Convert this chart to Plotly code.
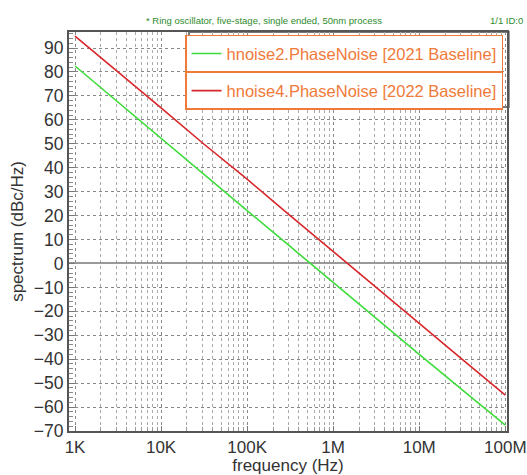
import plotly.graph_objects as go

freq = [1e3, 3.162e3, 1e4, 3.162e4, 1e5, 3.162e5, 1e6, 3.162e6, 1e7, 3.162e7, 1e8]
pn_2021 = [82.5, 67.3, 52.2, 37.0, 22.1, 7.1, -8.0, -22.9, -38.0, -52.8, -67.5]
pn_2022 = [95.0, 80.2, 65.0, 49.8, 35.2, 20.0, 5.1, -10.0, -25.0, -40.1, -55.0]
x_tickvals = [1e3, 1e4, 1e5, 1e6, 1e7, 1e8]
x_ticktext = ["1K", "10K", "100K", "1M", "10M", "100M"]
x_minorvals = [m * d for d in [1e3, 1e4, 1e5, 1e6, 1e7] for m in range(2, 10)]
y_tickvals = list(range(-70, 91, 10))

ORANGE = "#F07A3A"
FONT = "Liberation Sans, Arial, sans-serif"

fig = go.Figure()
fig.add_trace(go.Scatter(x=freq, y=pn_2021, mode="lines",
                         name="hnoise2.PhaseNoise [2021 Baseline]",
                         line=dict(color="#3EDC3A", width=1.6), legend="legend"))
fig.add_trace(go.Scatter(x=freq, y=pn_2022, mode="lines",
                         name="hnoise4.PhaseNoise [2022 Baseline]",
                         line=dict(color="#D8262A", width=1.6), legend="legend2"))

legend_common = dict(bgcolor="white", bordercolor=ORANGE, borderwidth=1.5,
                     font=dict(family=FONT, size=16.5, color=ORANGE),
                     xanchor="right", yanchor="top", itemwidth=30,
                     tracegroupgap=0, xref="paper", yref="paper")

fig.update_layout(
    width=527, height=475,
    margin=dict(l=69, r=20, t=32, b=44, autoexpand=False),
    paper_bgcolor="white", plot_bgcolor="white",
    font=dict(family=FONT, color="#333333"),
    showlegend=True,
    legend=dict(x=0.991, y=0.993, **legend_common),
    legend2=dict(x=0.991, y=0.9, **legend_common),
    xaxis=dict(type="log", range=[2.93, 8.02], tickvals=x_tickvals, ticktext=x_ticktext,
               automargin=False,
               tickfont=dict(size=17, color="#333333"),
               title=dict(text="frequency (Hz)", font=dict(size=17, color="#333333"), standoff=5),
               showline=True, linecolor="#555555", linewidth=2, mirror=True,
               ticks="inside", ticklen=5, tickcolor="#777777",
               showgrid=True, gridcolor="#888888", griddash="3px,3px", gridwidth=1,
               minor=dict(tickmode="array", tickvals=x_minorvals,
                          showgrid=True, gridcolor="#AAAAAA", griddash="dot", gridwidth=1,
                          ticks="inside", ticklen=4, tickcolor="#999999"),
               zeroline=False),
    yaxis=dict(range=[-70, 96.7], tickvals=y_tickvals, automargin=False,
               tickfont=dict(size=17.5, color="#333333"),
               title=dict(text="spectrum (dBc/Hz)", font=dict(size=17, color="#333333"), standoff=6),
               showline=True, linecolor="#555555", linewidth=2, mirror=True,
               ticks="inside", ticklen=6, tickcolor="#777777",
               showgrid=True, gridcolor="#888888", griddash="3px,3px", gridwidth=1,
               minor=dict(dtick=2, ticks="inside", ticklen=4, tickcolor="#888888", showgrid=False),
               zeroline=True, zerolinecolor="#999999", zerolinewidth=1.5),
    shapes=[dict(type="rect", xref="paper", yref="paper",
                 x0=0.274, x1=1.004, y0=0.812, y1=1.0,
                 line=dict(color="#777777", width=2), fillcolor="white", layer="below")],
    annotations=[
        dict(text="* Ring oscillator, five-stage, single ended, 50nm process",
             xref="paper", yref="paper", x=0.445, y=1.048, showarrow=False,
             font=dict(size=9.5, color="#2E8B2E", family=FONT)),
        dict(text="1/1 ID:0", xref="paper", yref="paper", x=0.957, y=1.048,
             xanchor="left", showarrow=False,
             font=dict(size=9.5, color="#2E8B2E", family=FONT)),
    ],
)

fig.write_html("out.html", config={"displayModeBar": False},
               post_script="document.body.style.margin='0';document.body.style.overflow='hidden';")
